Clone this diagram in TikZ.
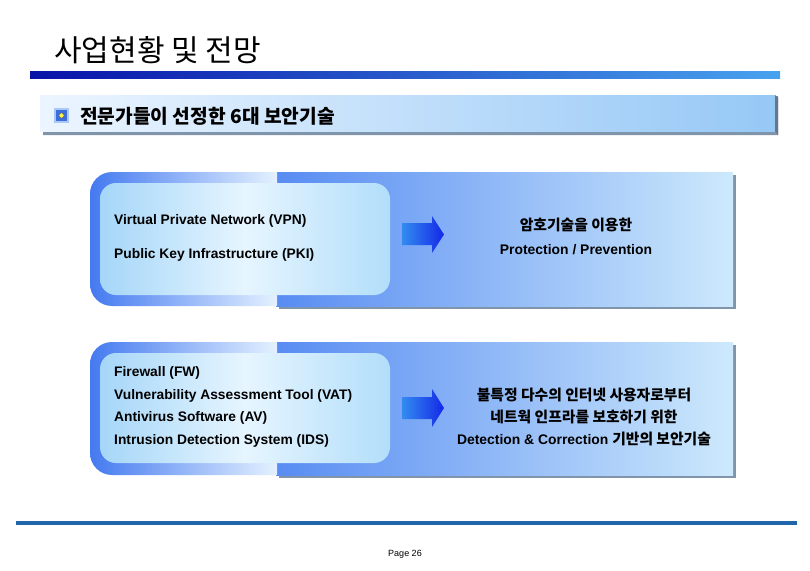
\documentclass[tikz,border=0pt]{standalone}
\usepackage{fontspec}
\setmainfont{Liberation Sans}
\newfontfamily\kr{Noto Sans CJK KR}
\definecolor{tbL}{RGB}{8,18,168}
\definecolor{tbR}{RGB}{72,162,238}
\definecolor{sbL}{RGB}{236,245,255}
\definecolor{sbR}{RGB}{150,200,246}
\definecolor{shd}{RGB}{128,148,170}
\definecolor{oL}{RGB}{68,122,240}
\definecolor{oLr}{RGB}{228,241,255}
\definecolor{oR}{RGB}{88,140,242}
\definecolor{oRr}{RGB}{205,233,252}
\definecolor{inL}{RGB}{165,214,248}
\definecolor{inM}{RGB}{230,245,255}
\definecolor{inR}{RGB}{178,222,250}
\definecolor{arL}{RGB}{50,140,240}
\definecolor{arR}{RGB}{20,40,232}
\definecolor{botline}{RGB}{32,102,170}
\definecolor{icon}{RGB}{60,110,220}
\definecolor{iconrim}{RGB}{170,200,250}
\definecolor{dot}{RGB}{250,240,80}
\tikzset{
  lefttxt/.style={anchor=west, inner sep=0pt, font=\fontsize{13.8}{15}\selectfont\bfseries},
  righttxt/.style={anchor=center, inner sep=0pt, font=\fontsize{13.9}{15}\selectfont\bfseries},
  krtxt/.style={anchor=center, inner sep=0pt, font=\kr\fontsize{14.8}{16}\selectfont\bfseries},
}
\begin{document}
\begin{tikzpicture}[x=1pt,y=-1pt]
\useasboundingbox (0,0) rectangle (810,570);
\fill[white] (0,0) rectangle (810,570);
% title
\node[anchor=west, inner sep=0pt, font=\kr\fontsize{30}{32}\selectfont] (title) at (54,50) {사업현황 및 전망};
\shade[left color=tbL, right color=tbR] (30,71) rectangle (780,78);
% subtitle bar
\fill[shd] (43,99) -- (778,96) -- (778,135) -- (43,135) -- cycle;
\shade[left color=sbL, right color=sbR] (40,95) rectangle (775,131);
\fill[shd!80!black] (775,95) -- (778,98) -- (778,135) -- (775,131) -- cycle;
\fill[iconrim] (54,108) rectangle (69,123);
\fill[icon] (56,110) rectangle (67,121);
\fill[dot, draw=black!70, line width=0.4pt] (61.5,115.5) circle (2.6);
\node[anchor=west, inner sep=0pt, font=\kr\fontsize{19.2}{21}\selectfont\bfseries] (sub) at (80,116) {전문가들이 선정한 6대 보안기술};
% ---------- panel 1 ----------
\fill[shd] (279,175) -- (736,175) -- (736,309) -- (279,309) -- cycle;
\shade[left color=oR, right color=oRr] (276,172) rectangle (733,306);
\shade[left color=oL, right color=oLr] (277,172) [rounded corners=22pt] -- (90,172) -- (90,306) [sharp corners] -- (277,306) -- cycle;
\shade[left color=inL, right color=inR, middle color=inM, rounded corners=16pt] (100,183) rectangle (390,295);
\shade[left color=arL, right color=arR] (402,223) -- (432,223) -- (432,216) -- (444,234.5) -- (432,253) -- (432,245) -- (402,245) -- cycle;
\node[lefttxt] (vpn) at (114,221) {Virtual Private Network (VPN)};
\node[lefttxt] (pki) at (114,255) {Public Key Infrastructure (PKI)};
\node[krtxt] (p1a) at (576,225) {암호기술을 이용한};
\node[righttxt] (p1b) at (576,250) {Protection / Prevention};
% ---------- panel 2 ----------
\fill[shd] (279,345) -- (736,345) -- (736,478) -- (279,478) -- cycle;
\shade[left color=oR, right color=oRr] (276,342) rectangle (733,475);
\shade[left color=oL, right color=oLr] (277,342) [rounded corners=22pt] -- (90,342) -- (90,475) [sharp corners] -- (277,475) -- cycle;
\shade[left color=inL, right color=inR, middle color=inM, rounded corners=16pt] (100,353) rectangle (390,463);
\shade[left color=arL, right color=arR] (402,397) -- (432,397) -- (432,389) -- (444,408) -- (432,427) -- (432,419) -- (402,419) -- cycle;
\node[lefttxt] (fw) at (114,373) {Firewall (FW)};
\node[lefttxt] (vat) at (114,396) {Vulnerability Assessment Tool (VAT)};
\node[lefttxt] (av) at (114,418) {Antivirus Software (AV)};
\node[lefttxt] (ids) at (114,441) {Intrusion Detection System (IDS)};
\node[krtxt] (p2a) at (584,395) {불특정 다수의 인터넷 사용자로부터};
\node[krtxt] (p2b) at (584,417) {네트웍 인프라를 보호하기 위한};
\node[righttxt] (p2c) at (584,439) {Detection \& Correction {\kr\fontsize{14.8}{16}\selectfont 기반의 보안기술}};
% bottom
\fill[botline] (16,521) rectangle (797,525);
\node[inner sep=0pt, font=\fontsize{9}{10}\selectfont] (page) at (405,554) {Page 26};
\end{tikzpicture}
\end{document}
